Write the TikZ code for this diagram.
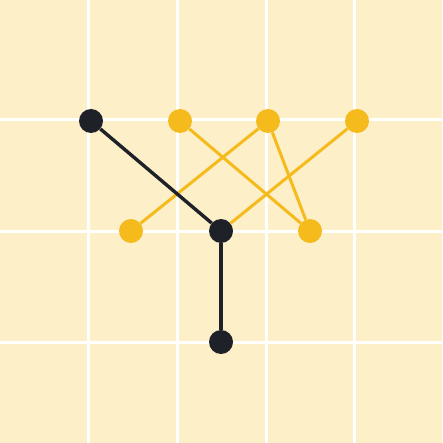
\documentclass[tikz,border=0pt]{standalone}
\usepackage{tikz}
\usetikzlibrary{backgrounds}
\definecolor{paper}{HTML}{FDEFC8}
\definecolor{gold}{HTML}{F5BA1B}
\definecolor{ink}{HTML}{1E2127}

\begin{document}
\begin{tikzpicture}[
  x=1pt, y=-1pt,
  grid/.style={draw=white, line width=3pt},
  blk/.style={circle, fill=ink, inner sep=0pt, minimum size=24pt},
  ylw/.style={circle, fill=gold, inner sep=0pt, minimum size=24pt},
  bedge/.style={draw=ink, line width=3.4pt},
  yedge/.style={draw=gold, line width=3pt},
]
\useasboundingbox (0,0) rectangle (442,443);
% ---------------- nodes ----
\node[blk] (top)   at (91,121) {};
\node[blk] (mid)   at (221,231) {};
\node[blk] (bot)   at (221,342) {};
\node[ylw] (ya)    at (180,121) {};
\node[ylw] (yb)    at (268,121) {};
\node[ylw] (yc)    at (357,121) {};
\node[ylw] (yleft) at (131,231) {};
\node[ylw] (yright) at (310,231) {};
% ---------------- edges ----
\draw[yedge] (ya) -- (yright);
\draw[yedge] (yb) -- (yleft);
\draw[yedge] (yb) -- (yright);
\draw[yedge] (yc) -- (mid);
\draw[bedge] (top) -- (mid);
\draw[bedge] (mid) -- (bot);
% ---------------- background and grid ----
\begin{scope}[on background layer]
  \fill[paper] (0,0) rectangle (442,443);
  \foreach \gx in {88.5,177.3,266.1,354.9}
    \draw[grid] (\gx,0) -- (\gx,443);
  \foreach \gy in {120,231,342}
    \draw[grid] (0,\gy) -- (442,\gy);
\end{scope}
\end{tikzpicture}
\end{document}
